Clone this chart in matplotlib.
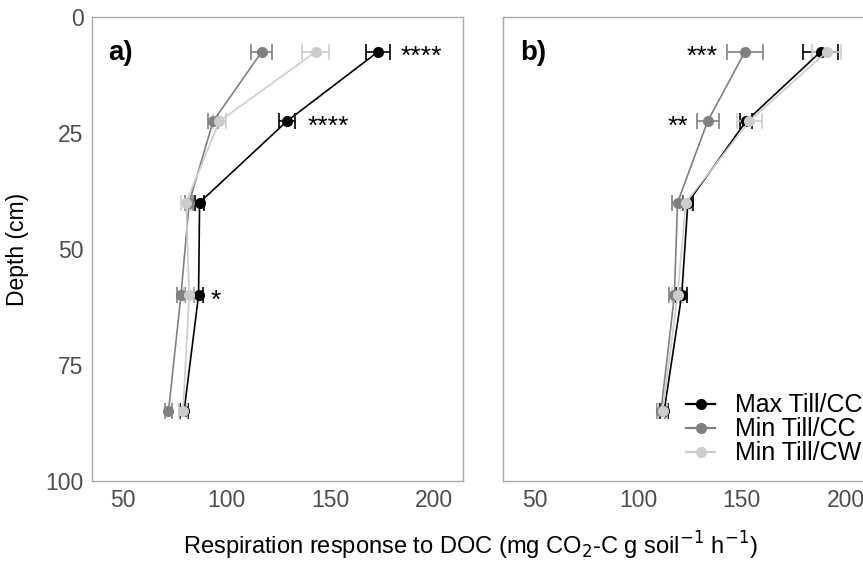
import numpy as np
import matplotlib

matplotlib.use("Agg")
import matplotlib.pyplot as plt
from matplotlib.lines import Line2D

plt.rcParams["font.family"] = ["Liberation Sans", "DejaVu Sans"]

# depth of each sampled layer [cm]
depth = [7.5, 22.5, 40, 60, 85]

# panel a)
a_max_cc = [173, 129, 87, 86.5, 79.5]
a_max_cc_se = [5.8, 3.8, 2.0, 2.0, 2.0]
a_min_cc = [117, 93.5, 82, 78, 72]
a_min_cc_se = [5.0, 2.5, 2.0, 2.0, 1.5]
a_min_cw = [143, 96.5, 80.5, 82, 79]
a_min_cw_se = [6.5, 3.0, 2.5, 2.5, 2.0]

# panel b)
b_max_cc = [188, 152, 124, 121, 112.5]
b_max_cc_se = [8.4, 3.0, 2.5, 2.5, 2.0]
b_min_cc = [151.5, 133.5, 119, 117.5, 111]
b_min_cc_se = [8.5, 5.3, 2.5, 2.5, 2.0]
b_min_cw = [191, 153.5, 123, 119, 111.8]
b_min_cw_se = [7.0, 6.0, 2.5, 2.5, 2.0]

# significance labels (x, depth, text)
a_stars = [(194, 7.5, "****"), (149, 22.5, "****"), (95, 60, "*")]
b_stars = [(131, 7.5, "***"), (119, 22.5, "**")]

treatments = ["Max Till/CC", "Min Till/CC", "Min Till/CW"]
colors = ["#000000", "#808080", "#CCCCCC"]
x_ticks = [50, 100, 150, 200]
y_ticks = [0, 25, 50, 75, 100]

fig = plt.figure(figsize=(8.63, 5.75), dpi=100)
ax_a = fig.add_axes([0.1063, 0.1635, 0.4302, 0.807])
ax_b = fig.add_axes([0.5832, 0.1635, 0.4302, 0.807])

panels = [
    (ax_a, "a)", [a_max_cc, a_min_cc, a_min_cw],
     [a_max_cc_se, a_min_cc_se, a_min_cw_se], a_stars),
    (ax_b, "b)", [b_max_cc, b_min_cc, b_min_cw],
     [b_max_cc_se, b_min_cc_se, b_min_cw_se], b_stars),
]

for ax, tag, series, errs, stars in panels:
    for name, vals, se, col in zip(treatments, series, errs, colors):
        ax.errorbar(vals, depth, xerr=se, color=col, lw=1.2, marker="o",
                    ms=7, capsize=5.5, elinewidth=1.2, capthick=1.2)
    for x, y, s in stars:
        ax.text(x, y + 1.2, s, ha="center", va="center", fontsize=19,
                color="black")
    ax.text(0.045, 0.922, tag, transform=ax.transAxes, fontsize=20,
            fontweight="bold", va="center", ha="left")
    ax.set_xlim(35, 214)
    ax.set_ylim(100, 0)
    ax.set_xticks(x_ticks)
    ax.set_yticks(y_ticks)
    ax.tick_params(length=0, labelsize=16.5, labelcolor="#4D4D4D", pad=6)
    for sp in ax.spines.values():
        sp.set_color("#AAAAAA")
        sp.set_linewidth(1.0)

ax_b.set_yticklabels([])
ax_a.set_ylabel("Depth (cm)", fontsize=16.5)
ax_a.yaxis.set_label_coords(-0.168, 0.5)

handles = [Line2D([], [], color=c, lw=1.6, marker="o", ms=7)
           for c in colors]
ax_b.legend(handles, treatments, loc="lower right",
            bbox_to_anchor=(0.995, 0.012), frameon=False, fontsize=18,
            handlelength=1.15, handletextpad=0.8, labelspacing=0.0,
            borderaxespad=0.0)

fig.text(0.545, 0.05,
         "Respiration response to DOC (mg CO$_2$-C g soil$^{-1}$ h$^{-1}$)",
         ha="center", va="center", fontsize=17)

fig.savefig("out.png", dpi=100)
